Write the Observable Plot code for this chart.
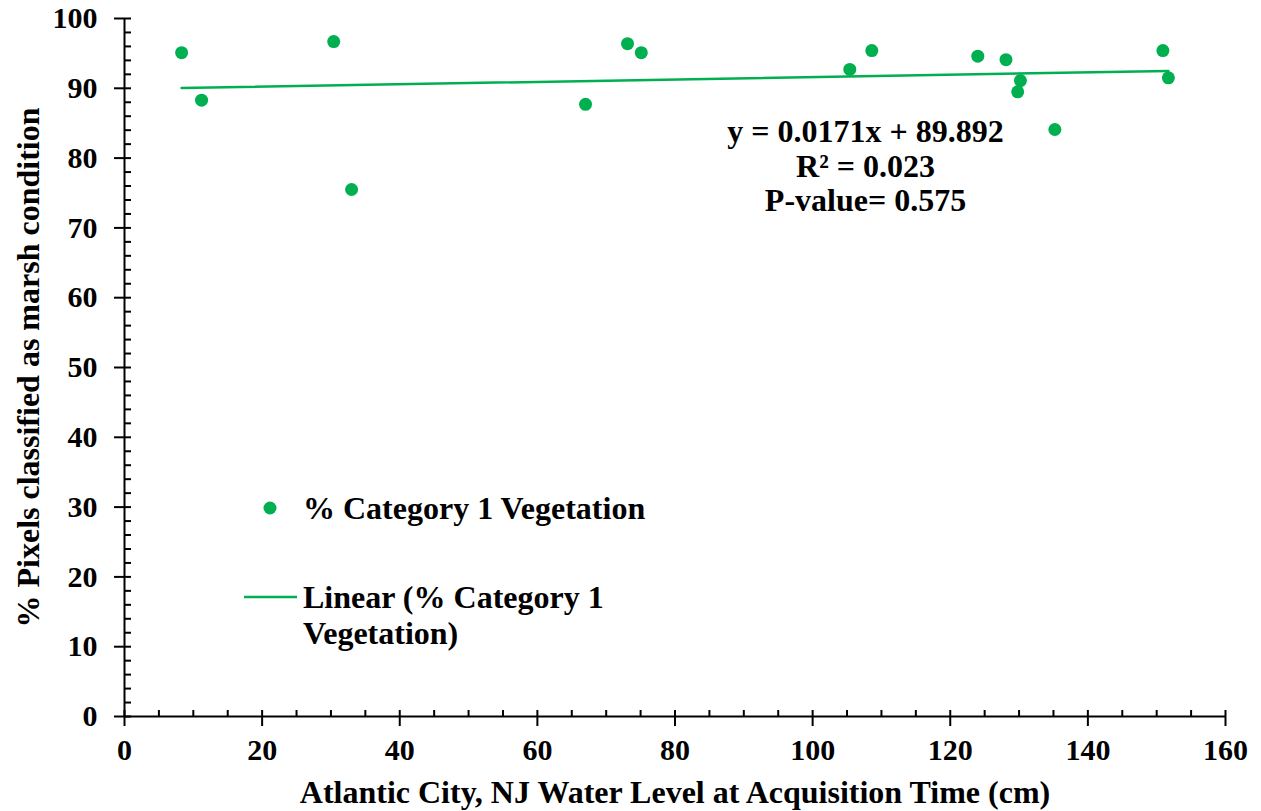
<!DOCTYPE html>
<html>
<head>
<meta charset="utf-8">
<script src="https://cdn.jsdelivr.net/npm/d3@7"></script>
<script src="https://cdn.jsdelivr.net/npm/@observablehq/plot@0.6"></script>
<style>
  html, body { margin: 0; padding: 0; background: #fff; }
  #chart { width: 1261px; height: 811px; }
</style>
</head>
<body>
<div id="chart"></div>
<script>
// Data
const waterLevel = [8.3, 11.2, 30.4, 33.0, 67.0, 73.1, 75.1, 105.4, 108.6, 124.0, 128.1, 129.8, 130.2, 135.2, 150.9, 151.7];
const marshPct   = [95.1, 88.3, 96.7, 75.5, 87.7, 96.4, 95.1, 92.7, 95.4, 94.6, 94.1, 89.5, 91.1, 84.1, 95.4, 91.5];
const trendSlope = 0.0171;
const trendIntercept = 89.892;
const statsLines = ["y = 0.0171x + 89.892", "R² = 0.023", "P-value= 0.575"];
const xTicks = [0, 20, 40, 60, 80, 100, 120, 140, 160];
const yTicks = [0, 10, 20, 30, 40, 50, 60, 70, 80, 90, 100];
const seriesName = "% Category 1 Vegetation";
const trendName = ["Linear (% Category 1", "Vegetation)"];
const xTitle = "Atlantic City, NJ Water Level at Acquisition Time (cm)";
const yTitle = "% Pixels classified as marsh condition";

const green = "#00b050";
const points = waterLevel.map((x, i) => ({x, y: marshPct[i]}));
const xExt = d3.extent(waterLevel);
const trend = xExt.map(x => ({x, y: trendSlope * x + trendIntercept}));

const W = 1261, H = 811;
const mL = 124, mR = 36, mT = 18, mB = 95;
const noText = () => "";
const font = "'Liberation Serif', 'Times New Roman', serif";

const plot = Plot.plot({
  width: W, height: H,
  marginLeft: mL, marginRight: mR, marginTop: mT, marginBottom: mB,
  style: {fontFamily: font, fontWeight: "bold", fontSize: "30px", color: "#000", background: "#fff"},
  x: {domain: [0, 160]},
  y: {domain: [0, 100]},
  marks: [
    // minor (inside) ticks
    Plot.axisX(d3.range(0, 161, 5), {tickSize: 6, dy: -6, strokeWidth: 2, stroke: "#000", tickFormat: noText, label: null}),
    Plot.axisY(d3.range(0, 101, 2), {tickSize: 7, dx: 7, strokeWidth: 2, stroke: "#000", tickFormat: noText, label: null}),
    // major ticks with labels
    Plot.axisX(xTicks, {tickSize: 10, tickPadding: 12, strokeWidth: 2, stroke: "#000", fontSize: 30, fontWeight: "bold", fill: "#000", label: null}),
    Plot.axisY(yTicks, {tickSize: 10, tickPadding: 17, strokeWidth: 2, stroke: "#000", fontSize: 30, fontWeight: "bold", fill: "#000", label: null}),
    // axes lines
    Plot.ruleY([0], {stroke: "#000", strokeWidth: 2}),
    Plot.ruleX([0], {stroke: "#000", strokeWidth: 2}),
    // titles
    Plot.text([xTitle], {frameAnchor: "bottom", dy: 76, fontSize: 32, fontWeight: "bold", fill: "#000", lineAnchor: "middle"}),
    Plot.text([yTitle], {frameAnchor: "left", dx: -96, rotate: -90, textAnchor: "middle", fontSize: 32, fontWeight: "bold", fill: "#000", lineAnchor: "middle"}),
    // trend line
    Plot.line(trend, {x: "x", y: "y", stroke: green, strokeWidth: 2.5}),
    // points
    Plot.dot(points, {x: "x", y: "y", r: 6.5, fill: green}),
    // regression stats
    Plot.text([statsLines.join("\n")], {frameAnchor: "top-left", dx: 741, dy: 147, textAnchor: "middle", lineAnchor: "middle", lineHeight: 1.08, fontSize: 32, fontWeight: "bold", fill: "#000"})
  ]
});

document.getElementById("chart").appendChild(plot);

// Legend inside the plot area
const svg = d3.select(plot);
const lg = svg.append("g")
  .attr("font-family", font).attr("font-weight", "bold").attr("font-size", 32)
  .attr("text-anchor", "start").attr("fill", "#000");
lg.append("circle").attr("cx", 270).attr("cy", 508).attr("r", 6.5).attr("fill", green);
lg.append("text").attr("x", 303).attr("y", 508).attr("dy", "0.35em").text(seriesName);
lg.append("line").attr("x1", 244).attr("x2", 297).attr("y1", 597).attr("y2", 597).attr("stroke", green).attr("stroke-width", 2.5);
trendName.forEach((t, i) => {
  lg.append("text").attr("x", 303).attr("y", 597 + i * 36).attr("dy", "0.35em").text(t);
});
</script>
</body>
</html>
